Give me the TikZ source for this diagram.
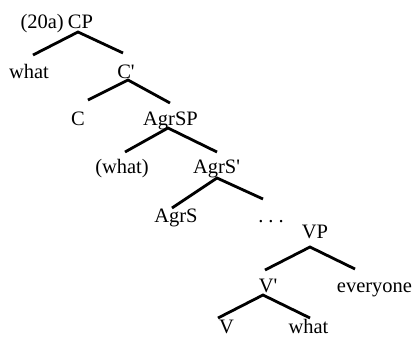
\documentclass[tikz,border=0pt]{standalone}
\usepackage{fontspec}
\setmainfont{Liberation Serif}
\begin{document}
\begin{tikzpicture}[x=1pt,y=-1pt,
  lab/.style={anchor=base,inner sep=0pt,font=\fontsize{20.5}{24}\selectfont},
  br/.style={line width=2.8pt}]
\useasboundingbox (0,0) rectangle (412,338);
\node[lab] (CP) at (80.5,28) {CP};
\node[lab,anchor=base east] (num) at (64,28) {(20a)};
\node[lab] (what1) at (29,78) {what};
\node[lab] (Cbar) at (126,78) {C\textquotesingle};
\node[lab] (C) at (78,125) {C};
\node[lab] (AgrSP) at (170.5,125) {AgrSP};
\node[lab] (what2) at (122,173) {(what)};
\node[lab] (AgrSbar) at (216.5,173) {AgrS\textquotesingle};
\node[lab] (AgrS) at (176,222) {AgrS};
\node[lab] (dots) at (271,222) {.\hspace{5pt}.\hspace{5pt}.};
\node[lab] (VP) at (315,238) {VP};
\node[lab] (Vbar) at (268,292) {V\textquotesingle};
\node[lab] (everyone) at (374.5,292) {everyone};
\node[lab] (V) at (226.5,333) {V};
\node[lab] (what3) at (308.5,333) {what};
\draw[br] ([shift={(4,-23)}]what1.base) -- ([shift={(-2.5,4)}]CP.base) -- ([shift={(-3,-25)}]Cbar.base);
\draw[br] ([shift={(10,-25)}]C.base) -- ([shift={(2,2)}]Cbar.base) -- ([shift={(-0.5,-22)}]AgrSP.base);
\draw[br] ([shift={(3,-21)}]what2.base) -- ([shift={(-2.5,3)}]AgrSP.base) -- ([shift={(0.5,-21)}]AgrSbar.base);
\draw[br] ([shift={(-4,-14)}]AgrS.base) -- ([shift={(0.5,5)}]AgrSbar.base) -- ([shift={(-8,-23)}]dots.base);
\draw[br] ([shift={(-3,-22)}]Vbar.base) -- ([shift={(-5,9)}]VP.base) -- ([shift={(-19.5,-23)}]everyone.base);
\draw[br] ([shift={(-8.5,-15)}]V.base) -- ([shift={(-5,3)}]Vbar.base) -- ([shift={(1.5,-15)}]what3.base);
\end{tikzpicture}
\end{document}
